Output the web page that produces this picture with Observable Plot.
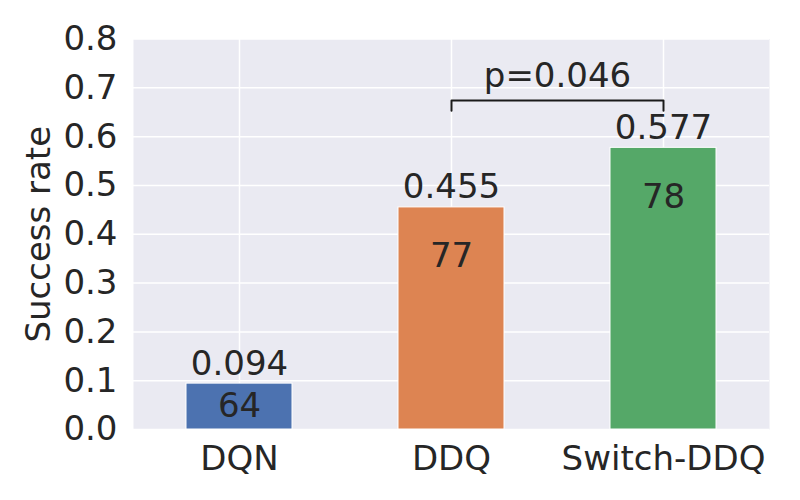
<!DOCTYPE html>
<html>
<head>
<meta charset="utf-8">
<script src="https://cdn.jsdelivr.net/npm/d3@7"></script>
<script src="https://cdn.jsdelivr.net/npm/@observablehq/plot@0.6"></script>
<style>
  html, body { margin: 0; padding: 0; background: #fff; }
</style>
</head>
<body>
<div id="chart"></div>
<script>
const methods = ["DQN", "DDQ", "Switch-DDQ"];
const successRates = [0.094, 0.455, 0.577];
const innerLabels = [64, 77, 78];
const barColors = ["#4C72B0", "#DD8452", "#55A868"];
const yTicks = [0, 0.1, 0.2, 0.3, 0.4, 0.5, 0.6, 0.7, 0.8];
const pLabel = "p=0.046";
const bracketLow = 0.653, bracketHigh = 0.674;

const data = methods.map((m, i) => ({
  method: m, rate: successRates[i], inner: innerLabels[i], color: barColors[i],
  innerY: successRates[i] > 0.2 ? successRates[i] - 0.1 : successRates[i] / 2
}));
const bracket = [
  {x: "DDQ", y: bracketLow}, {x: "DDQ", y: bracketHigh},
  {x: "Switch-DDQ", y: bracketHigh}, {x: "Switch-DDQ", y: bracketLow}
];

const W = 800, H = 500, mL = 133, mR = 31, mT = 38.5, mB = 71;
const step = (W - mL - mR) / methods.length;
const ink = "#262626";
const FS = 34;

const chart = Plot.plot({
  width: W, height: H,
  marginLeft: mL, marginRight: mR, marginTop: mT, marginBottom: mB,
  style: {fontFamily: "DejaVu Sans", fontSize: FS + "px", color: ink, background: "#fff", overflow: "visible"},
  x: {type: "band", domain: methods, paddingInner: 0.5, paddingOuter: 0.25, label: null},
  y: {domain: [0, 0.8], label: null},
  marks: [
    Plot.frame({fill: "#EAEAF2", stroke: null}),
    Plot.gridY(yTicks, {stroke: "#fff", strokeOpacity: 1, strokeWidth: 1.5}),
    Plot.gridX(methods, {stroke: "#fff", strokeOpacity: 1, strokeWidth: 1.5}),
    Plot.barY(data, {x: "method", y: "rate", fill: "color", stroke: "#fff", strokeWidth: 1}),
    Plot.text(data, {x: "method", y: "rate", text: d => d.rate.toFixed(3), lineAnchor: "bottom", dy: -9, fill: ink, fontSize: FS}),
    Plot.text(data, {x: "method", y: "innerY", text: d => String(d.inner), lineAnchor: "middle", fill: ink, fontSize: FS}),
    Plot.line(bracket, {x: "x", y: "y", stroke: "#1a1a1a", strokeWidth: 2, curve: "linear"}),
    Plot.text([pLabel], {x: () => "DDQ", y: () => bracketHigh, text: d => d, dx: step / 2, lineAnchor: "bottom", dy: -14, fill: ink, fontSize: FS}),
    Plot.axisY(yTicks, {tickSize: 0, tickPadding: 16, tickFormat: d3.format(".1f"), fontSize: FS, label: "Success rate", labelAnchor: "center", labelArrow: "none", labelOffset: 108}),
    Plot.axisX(methods, {tickSize: 0, tickPadding: 16, fontSize: FS, label: null})
  ]
});
document.getElementById("chart").appendChild(chart);
</script>
</body>
</html>
